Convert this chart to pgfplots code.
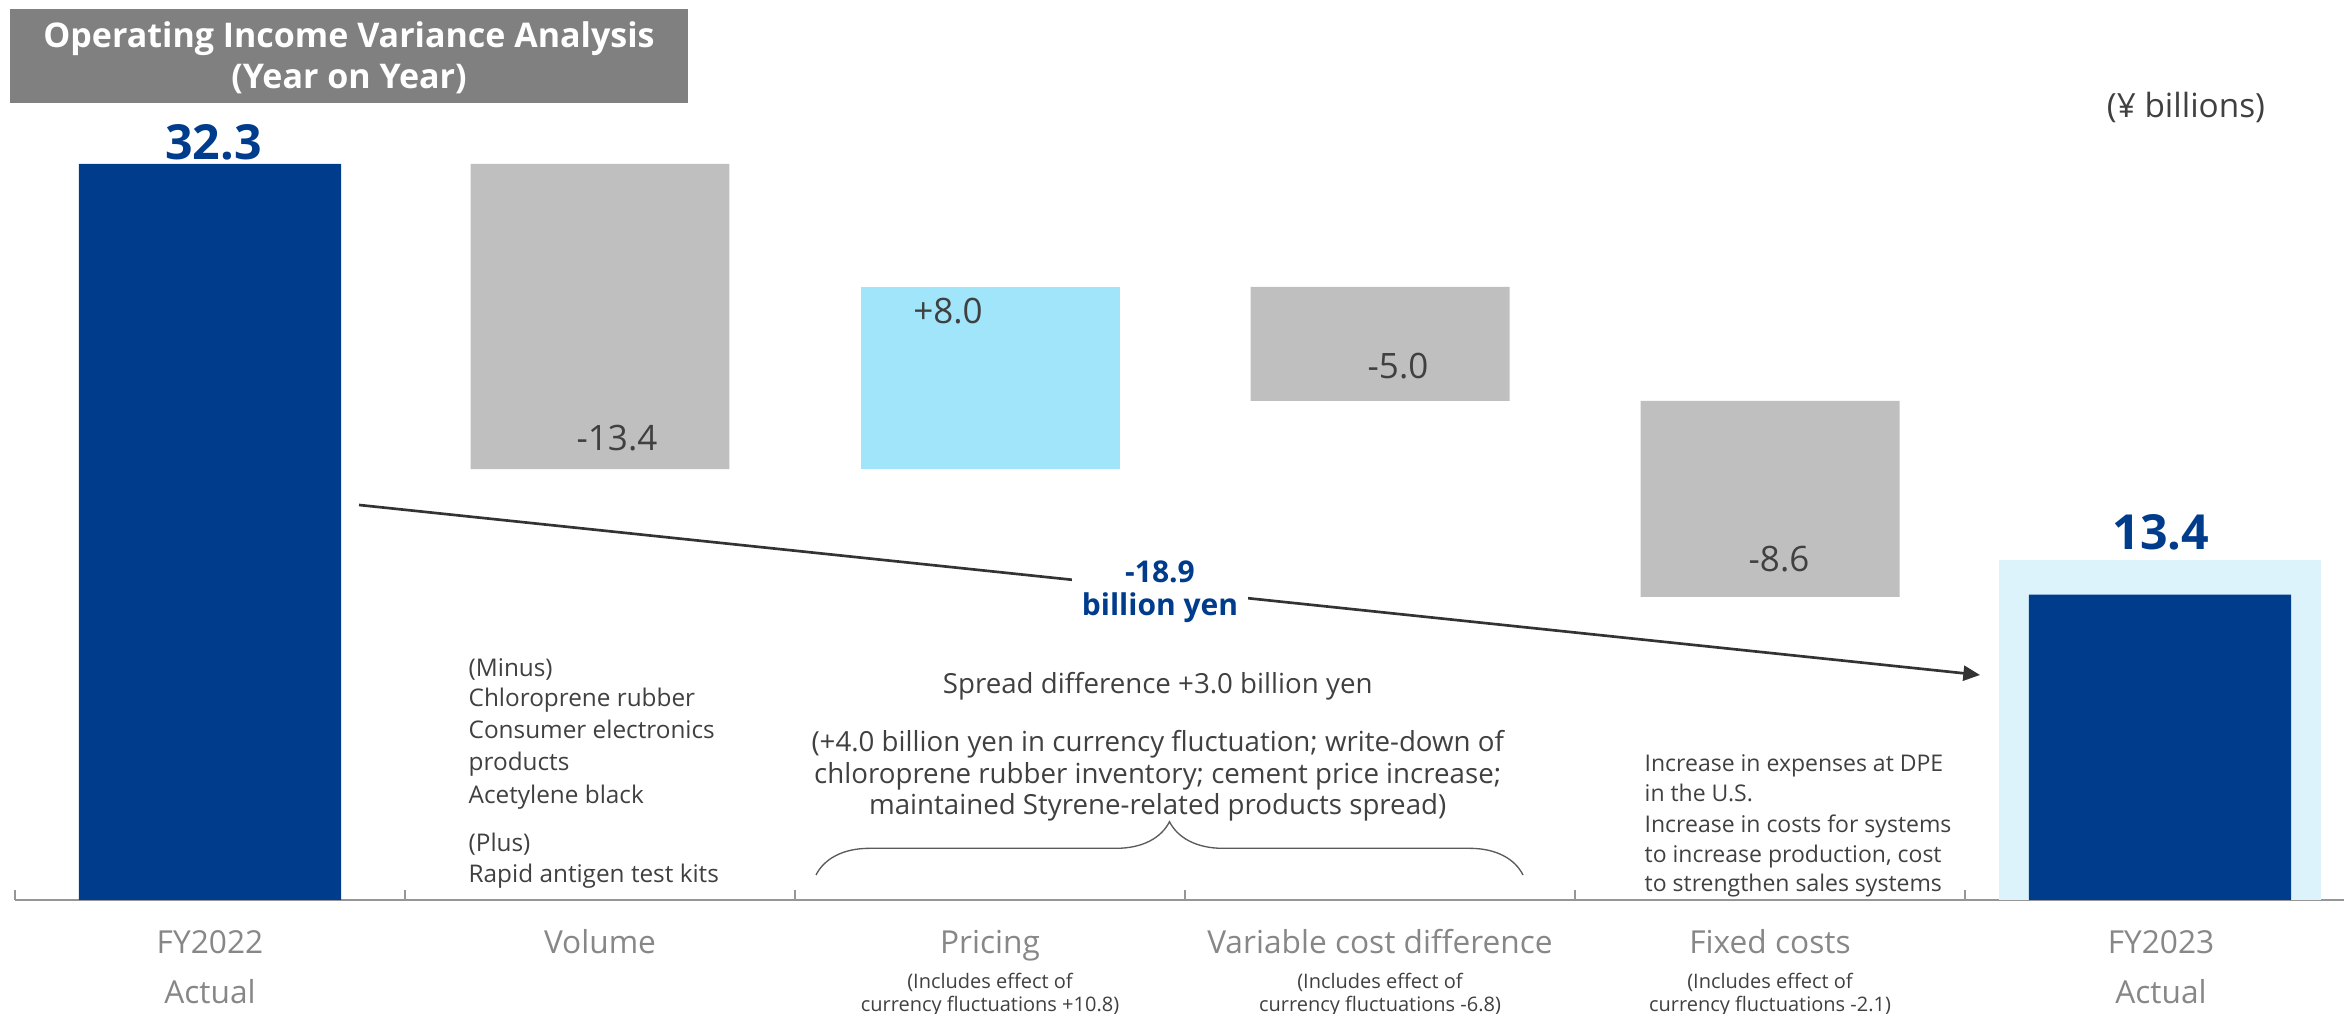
\documentclass[border=0pt]{standalone}
\usepackage{fontspec}
\setmainfont{Open Sans}
\usepackage{pgfplots}
\pgfplotsset{compat=1.18}
\usetikzlibrary{decorations.pathreplacing, arrows.meta}
\definecolor{navy}{RGB}{0,60,140}
\definecolor{bargray}{RGB}{191,191,191}
\definecolor{cyanbar}{RGB}{160,229,250}
\definecolor{hatchc}{RGB}{220,243,251}
\definecolor{titlegray}{RGB}{128,128,128}
\definecolor{txt}{RGB}{64,64,64}
\definecolor{axgray}{RGB}{150,150,150}
\definecolor{catgray}{RGB}{135,135,135}
\newcommand{\fs}[1]{\fontsize{#1}{#1}\selectfont}
\begin{document}
\begin{tikzpicture}
\useasboundingbox (-4.5pt,-34.2pt) rectangle (698.7pt,270pt);
\pgfplotsset{base/.style={width=698.7pt, height=270pt, scale only axis,
  xmin=-0.5, xmax=5.4718, ymin=0, ymax=39.49, clip=false}}
% FY bars + axis line
\begin{axis}[base, ybar,
  axis x line*=bottom, axis y line=none,
  x axis line style={-, draw=axgray, line width=0.7pt},
  xtick={-0.5,0.5,1.5,2.5,3.5,4.5}, xticklabels={},
  tick align=inside, major tick length=3pt,
  xtick style={draw=axgray, line width=0.6pt}, ytick=\empty]
\addplot[fill=hatchc, draw=none, bar width=0.826, bar shift=0pt] coordinates {(5,14.9)};
\addplot[fill=navy, draw=none, bar width=0.672, bar shift=0pt] coordinates {(0,32.3) (5,13.4)};
\end{axis}
% floating bars
\begin{axis}[base, ybar stacked, bar width=0.664, hide axis]
\addplot[draw=none, fill=none] coordinates {(1,18.9) (2,18.9) (3,21.9) (4,13.3)};
\addplot[fill=bargray, draw=none] coordinates {(1,13.4) (2,0) (3,5.0) (4,8.6)};
\addplot[fill=cyanbar, draw=none] coordinates {(1,0) (2,8.0) (3,0) (4,0)};
\end{axis}
\begin{scope}[x=1pt,y=1pt, every node/.style={inner sep=0pt}]
% title box
\fill[titlegray] (-1.5,239.1) rectangle (201.9,267.3);
\node[font=\fs{10.2}\bfseries, text=white] at (100.2,258.3) {Operating Income Variance Analysis};
\node[font=\fs{10.2}\bfseries, text=white] at (100.2,246.3) {(Year on Year)};
% unit
\node[font=\fs{10}, text=txt] at (651.3,237.9) {(¥ billions)};
% totals
\node[font=\fs{14.5}\bfseries, text=navy] at (59.5,227.4) {32.3};
\node[font=\fs{14.5}\bfseries, text=navy] at (643.8,110.4) {13.4};
% bar values
\node[font=\fs{10.5}, text=txt] at (180.6,138.6) {-13.4};
\node[font=\fs{10.5}, text=txt] at (279.9,176.7) {+8.0};
\node[font=\fs{10.5}, text=txt] at (414.9,160.2) {-5.0};
\node[font=\fs{10.5}, text=txt] at (529.2,102.3) {-8.6};
% arrow
\draw[line width=0.8pt, draw={rgb,255:red,51;green,51;blue,51}, -{Triangle[length=5pt,width=4.5pt]}] (103.2,118.5) -- (589.5,67.5);
\node[fill=white, inner xsep=3pt, inner ysep=1pt, align=center, font=\fs{9}\bfseries, text=navy] at (343.5,92.5) {-18.9\\[1pt]billion yen};
% volume annotation
\begin{scope}[every node/.style={inner sep=0pt, anchor=west, font=\fs{7.3}, text=txt, text height=1.34ex, text depth=0pt}]
\node at (135.9,70.5) {(Minus)};
\node at (135.9,61.5) {Chloroprene rubber};
\node at (135.9,51.9) {Consumer electronics};
\node at (135.9,42.3) {products};
\node at (135.9,32.4) {Acetylene black};
\node at (135.9,18.0) {(Plus)};
\node at (135.9,8.7) {Rapid antigen test kits};
\end{scope}
% pricing annotation
\begin{scope}[every node/.style={inner sep=0pt, font=\fs{8.3}, text=txt, text height=1.34ex, text depth=0pt}]
\node at (342.8,65.4) {Spread difference +3.0 billion yen};
\node at (342.8,48.0) {(+4.0 billion yen in currency fluctuation; write-down of};
\node at (342.8,38.4) {chloroprene rubber inventory; cement price increase;};
\node at (342.8,29.1) {maintained Styrene-related products spread)};
\end{scope}
\draw[draw={rgb,255:red,90;green,90;blue,90}, line width=0.4pt, decorate, decoration={brace, amplitude=16pt}] (240.3,7.5) -- (452.4,7.5);
% fixed costs annotation
\begin{scope}[every node/.style={inner sep=0pt, anchor=west, font=\fs{6.9}, text=txt, text height=1.34ex, text depth=0pt}]
\node at (488.7,42.0) {Increase in expenses at DPE};
\node at (488.7,33.0) {in the U.S.};
\node at (488.7,23.7) {Increase in costs for systems};
\node at (488.7,14.7) {to increase production, cost};
\node at (488.7,6.0) {to strengthen sales systems};
\end{scope}
% category labels
\begin{scope}[every node/.style={inner sep=0pt, font=\fs{9.5}, text=catgray, text height=1.34ex, text depth=0pt}]
\node at (58.5,-12.6) {FY2022};
\node at (58.5,-27.6) {Actual};
\node at (175.5,-12.6) {Volume};
\node at (292.5,-12.6) {Pricing};
\node at (409.5,-12.6) {Variable cost difference};
\node at (526.5,-12.6) {Fixed costs};
\node at (643.8,-12.6) {FY2023};
\node at (643.8,-27.6) {Actual};
\end{scope}
\begin{scope}[every node/.style={inner sep=0pt, font=\fs{6}, text=txt, text height=1.34ex, text depth=0pt}]
\node at (292.5,-22.9) {(Includes effect of};
\node at (292.5,-30.0) {currency fluctuations +10.8)};
\node at (409.5,-22.9) {(Includes effect of};
\node at (409.5,-30.0) {currency fluctuations -6.8)};
\node at (526.5,-22.9) {(Includes effect of};
\node at (526.5,-30.0) {currency fluctuations -2.1)};
\end{scope}
\end{scope}
\end{tikzpicture}
\end{document}
